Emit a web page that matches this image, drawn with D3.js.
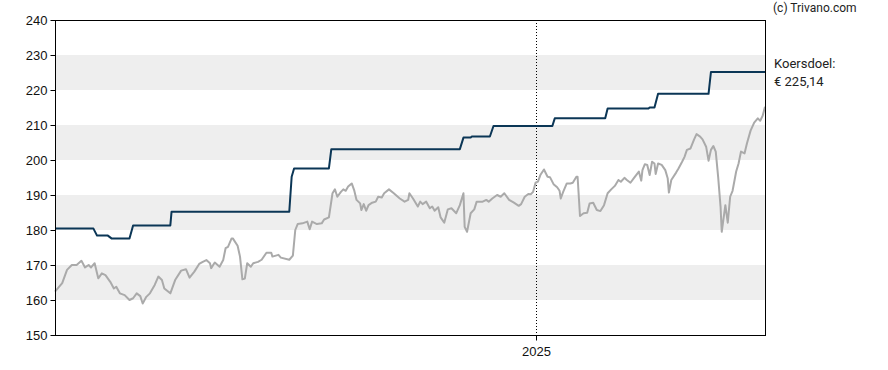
<!DOCTYPE html>
<html>
<head>
<meta charset="utf-8">
<script src="https://cdn.jsdelivr.net/npm/d3@7"></script>
<style>
  body { margin: 0; background: #fff; }
  svg { display: block; font-family: Roboto, "Liberation Sans", sans-serif; }
  .axis text { font-size: 13px; fill: #111; }
  .axis path, .axis line { stroke: #000; }
</style>
</head>
<body>
<svg></svg>
<script>
const w = 888;
const h = 370;
const m = { top: 20, right: 123, bottom: 35, left: 55 };

// Data
const xDomain = ["2023-11-27", "2025-07-10"];
const yDomain = [150, 240];
const yTicks = [150, 160, 170, 180, 190, 200, 210, 220, 230, 240];
const bands = [[160, 170], [180, 190], [200, 210], [220, 230]];
const yearTicks = ["2025-01-01"];

const priceDates = [
  "2023-11-27", "2023-12-03", "2023-12-07", "2023-12-11", "2023-12-15", "2023-12-19", "2023-12-22", "2023-12-25",
  "2023-12-27", "2023-12-30", "2024-01-02", "2024-01-05", "2024-01-08", "2024-01-12", "2024-01-15", "2024-01-17",
  "2024-01-20", "2024-01-24", "2024-01-28", "2024-01-31", "2024-02-03", "2024-02-06", "2024-02-08", "2024-02-11",
  "2024-02-14", "2024-02-18", "2024-02-21", "2024-02-24", "2024-02-26", "2024-03-02", "2024-03-06", "2024-03-11",
  "2024-03-15", "2024-03-18", "2024-03-22", "2024-03-26", "2024-03-29", "2024-04-01", "2024-04-04", "2024-04-05",
  "2024-04-08", "2024-04-12", "2024-04-15", "2024-04-17", "2024-04-19", "2024-04-22", "2024-04-23", "2024-04-27",
  "2024-04-29", "2024-05-01", "2024-05-03", "2024-05-05", "2024-05-08", "2024-05-10", "2024-05-14", "2024-05-17",
  "2024-05-21", "2024-05-25", "2024-05-26", "2024-05-31", "2024-06-02", "2024-06-09", "2024-06-12", "2024-06-14",
  "2024-06-16", "2024-06-20", "2024-06-24", "2024-06-26", "2024-06-28", "2024-07-02", "2024-07-06", "2024-07-08",
  "2024-07-12", "2024-07-15", "2024-07-17", "2024-07-19", "2024-07-22", "2024-07-24", "2024-07-26", "2024-07-28",
  "2024-07-31", "2024-08-02", "2024-08-04", "2024-08-07", "2024-08-08", "2024-08-10", "2024-08-12", "2024-08-14",
  "2024-08-17", "2024-08-20", "2024-08-22", "2024-08-25", "2024-08-27", "2024-08-31", "2024-09-04", "2024-09-09",
  "2024-09-13", "2024-09-16", "2024-09-17", "2024-09-20", "2024-09-24", "2024-09-26", "2024-09-28", "2024-10-01",
  "2024-10-04", "2024-10-06", "2024-10-08", "2024-10-11", "2024-10-13", "2024-10-16", "2024-10-19", "2024-10-22",
  "2024-10-26", "2024-10-29", "2024-11-01", "2024-11-02", "2024-11-04", "2024-11-07", "2024-11-10", "2024-11-12",
  "2024-11-17", "2024-11-20", "2024-11-22", "2024-11-25", "2024-11-29", "2024-12-02", "2024-12-05", "2024-12-09",
  "2024-12-13", "2024-12-17", "2024-12-19", "2024-12-22", "2024-12-25", "2024-12-27", "2024-12-29", "2024-12-31",
  "2025-01-02", "2025-01-04", "2025-01-07", "2025-01-10", "2025-01-12", "2025-01-15", "2025-01-18", "2025-01-20",
  "2025-01-21", "2025-01-23", "2025-01-26", "2025-01-29", "2025-01-31", "2025-02-03", "2025-02-04", "2025-02-06",
  "2025-02-09", "2025-02-12", "2025-02-14", "2025-02-17", "2025-02-20", "2025-02-23", "2025-02-26", "2025-03-01",
  "2025-03-04", "2025-03-07", "2025-03-10", "2025-03-12", "2025-03-15", "2025-03-17", "2025-03-20", "2025-03-23",
  "2025-03-27", "2025-03-29", "2025-03-30", "2025-04-01", "2025-04-03", "2025-04-05", "2025-04-07", "2025-04-09",
  "2025-04-10", "2025-04-12", "2025-04-15", "2025-04-18", "2025-04-20", "2025-04-21", "2025-04-23", "2025-04-27",
  "2025-04-29", "2025-05-02", "2025-05-04", "2025-05-06", "2025-05-09", "2025-05-12", "2025-05-14", "2025-05-17",
  "2025-05-19", "2025-05-22", "2025-05-24", "2025-05-26", "2025-05-28", "2025-05-30", "2025-06-01", "2025-06-03",
  "2025-06-04", "2025-06-07", "2025-06-09", "2025-06-11", "2025-06-13", "2025-06-16", "2025-06-18", "2025-06-20",
  "2025-06-23", "2025-06-25", "2025-06-28", "2025-07-01", "2025-07-04", "2025-07-06", "2025-07-08", "2025-07-10"
];
const priceValues = [
  162.4, 164.8, 168.6, 170.0, 170.0, 171.2, 169.3, 170.0,
  169.3, 170.5, 166.2, 167.6, 167.1, 165.2, 163.3, 163.8,
  161.9, 161.4, 160.0, 160.5, 161.9, 161.1, 159.0, 160.9,
  161.9, 164.3, 166.7, 165.7, 163.3, 161.9, 165.7, 168.4,
  168.8, 166.4, 168.1, 170.3, 170.9, 171.4, 170.5, 169.1,
  170.7, 169.5, 171.4, 174.8, 175.2, 177.6, 177.6, 175.5,
  172.4, 165.9, 166.1, 170.5, 169.5, 170.5, 170.9, 171.5,
  173.5, 173.5, 172.4, 172.9, 172.1, 171.5, 172.7, 180.0,
  181.7, 181.9, 182.4, 180.2, 182.4, 181.7, 181.9, 183.0,
  183.6, 190.5, 191.6, 189.5, 190.9, 191.6, 191.2, 192.4,
  193.3, 191.4, 188.6, 187.6, 185.7, 187.4, 185.5, 187.1,
  187.8, 188.1, 189.5, 189.3, 190.5, 191.6, 190.5, 189.0,
  188.1, 188.6, 190.5, 189.0, 186.7, 188.1, 187.4, 188.1,
  186.2, 186.7, 185.5, 186.5, 183.6, 182.1, 185.9, 186.2,
  184.8, 187.1, 190.5, 180.9, 179.5, 184.8, 185.9, 188.1,
  188.1, 188.6, 188.1, 189.0, 190.0, 189.5, 190.5, 188.6,
  187.8, 186.9, 187.4, 189.5, 190.3, 190.2, 190.9, 193.5,
  193.8, 195.7, 197.3, 195.2, 195.1, 193.1, 192.2, 191.2,
  189.0, 190.9, 193.3, 193.3, 193.5, 195.2, 195.2, 184.0,
  184.8, 184.9, 187.6, 187.8, 185.7, 185.4, 187.1, 190.5,
  191.6, 192.6, 194.3, 193.8, 194.9, 194.3, 193.5, 194.9,
  196.7, 194.1, 197.1, 198.8, 198.6, 195.7, 199.5, 199.0,
  196.0, 199.0, 198.6, 197.1, 194.8, 190.7, 194.3, 196.4,
  197.6, 199.5, 200.9, 202.9, 203.3, 205.9, 207.4, 206.7,
  205.9, 203.8, 199.8, 202.9, 204.0, 202.4, 195.2, 186.7,
  179.5, 187.1, 182.1, 189.5, 191.2, 196.7, 199.0, 202.4,
  201.9, 204.8, 208.4, 210.7, 211.9, 211.2, 212.6, 215.2
];

const targetDates = [
  "2023-11-27", "2023-12-29", "2024-01-01", "2024-01-10", "2024-01-13", "2024-01-28", "2024-01-31", "2024-03-02",
  "2024-03-03", "2024-06-09", "2024-06-11", "2024-06-13", "2024-07-12", "2024-07-14", "2024-10-29", "2024-11-01",
  "2024-11-07", "2024-11-08", "2024-11-23", "2024-11-26", "2025-01-14", "2025-01-16", "2025-02-27", "2025-03-01",
  "2025-04-04", "2025-04-05", "2025-04-09", "2025-04-12", "2025-05-24", "2025-05-26", "2025-07-10"
];
const targetValues = [
  180.4, 180.4, 178.4, 178.4, 177.6, 177.6, 181.3, 181.3,
  185.2, 185.2, 195.2, 197.6, 197.6, 203.1, 203.1, 206.4,
  206.4, 206.7, 206.7, 209.7, 209.7, 211.9, 211.9, 214.7,
  214.7, 215.0, 215.0, 218.9, 218.9, 225.14, 225.14
];

const copyright = "(c) Trivano.com";
const targetLabel = ["Koersdoel:", "€ 225,14"];

const parse = d3.utcParse("%Y-%m-%d");
const price = priceDates.map((d, i) => ({ date: parse(d), value: priceValues[i] }));
const target = targetDates.map((d, i) => ({ date: parse(d), value: targetValues[i] }));

const svg = d3.select("svg")
    .attr("width", w)
    .attr("height", h);

const x = d3.scaleUtc()
    .domain(xDomain.map(parse))
    .range([m.left, w - m.right]);

const y = d3.scaleLinear()
    .domain(yDomain)
    .range([h - m.bottom, m.top]);

// Bands
svg.selectAll(".band")
    .data(bands)
    .enter()
    .append("rect")
    .attr("class", "band")
    .attr("x", m.left)
    .attr("width", w - m.right - m.left)
    .attr("y", d => y(d[1]))
    .attr("height", d => y(d[0]) - y(d[1]))
    .attr("fill", "#eeeeee");

// Year divider
svg.selectAll(".year")
    .data(yearTicks.map(parse))
    .enter()
    .append("line")
    .attr("class", "year")
    .attr("x1", d => Math.floor(x(d)) + 0.5)
    .attr("x2", d => Math.floor(x(d)) + 0.5)
    .attr("y1", m.top)
    .attr("y2", h - m.bottom)
    .attr("stroke", "#000")
    .attr("stroke-dasharray", "1,2");

const line = d3.line()
    .x(d => x(d.date))
    .y(d => y(d.value));

svg.append("path")
    .datum(price)
    .attr("fill", "none")
    .attr("stroke", "#aaaaaa")
    .attr("stroke-width", 2)
    .attr("stroke-linejoin", "round")
    .attr("d", line);

svg.append("path")
    .datum(target)
    .attr("fill", "none")
    .attr("stroke", "#0b3656")
    .attr("stroke-width", 2)
    .attr("stroke-linejoin", "round")
    .attr("d", line);

// Frame
svg.append("rect")
    .attr("x", m.left + 0.5)
    .attr("y", m.top + 0.5)
    .attr("width", w - m.right - m.left)
    .attr("height", h - m.bottom - m.top)
    .attr("fill", "none")
    .attr("stroke", "#000");

// Axes
svg.append("g")
    .attr("class", "axis")
    .attr("transform", `translate(${m.left + 0.5},0)`)
    .call(d3.axisLeft(y).tickValues(yTicks).tickSize(5).tickPadding(3))
    .call(g => g.select(".domain").remove());

svg.append("g")
    .attr("class", "axis")
    .attr("transform", `translate(0,${h - m.bottom + 0.5})`)
    .call(d3.axisBottom(x).tickValues(yearTicks.map(parse)).tickFormat(d3.utcFormat("%Y")).tickSize(5).tickPadding(6))
    .call(g => g.select(".domain").remove())
    .call(g => g.selectAll(".tick").attr("transform", d => `translate(${Math.floor(x(d)) + 0.5},0)`));

// Labels on the right
svg.append("text")
    .attr("x", 773)
    .attr("y", 12)
    .attr("font-size", 12)
    .attr("fill", "#222")
    .text(copyright);

svg.selectAll(".target-label")
    .data(targetLabel)
    .enter()
    .append("text")
    .attr("class", "target-label")
    .attr("x", 774)
    .attr("y", (d, i) => 68 + i * 18)
    .attr("font-size", 13)
    .attr("fill", "#222")
    .text(d => d);
</script>
</body>
</html>
